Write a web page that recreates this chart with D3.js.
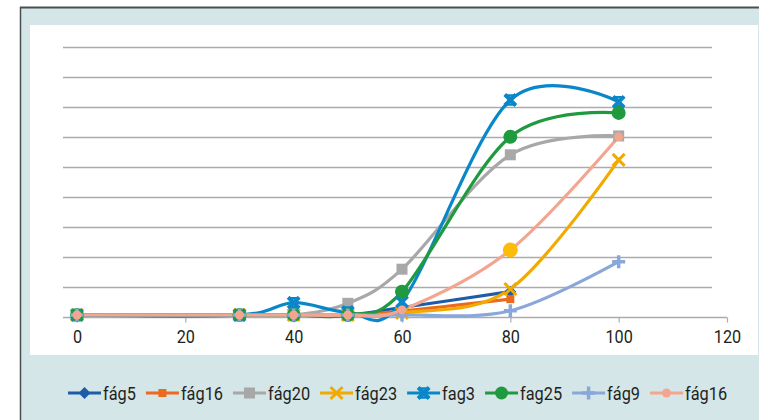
<!DOCTYPE html>
<html>
<head>
<meta charset="utf-8">
<script src="https://cdn.jsdelivr.net/npm/d3@7/dist/d3.min.js"></script>
<style>
  html, body { margin: 0; padding: 0; background: #ffffff; }
  svg { display: block; }
  text { font-family: Roboto, "Liberation Sans", sans-serif; fill: #231f20; }
</style>
</head>
<body>
<svg id="chart" width="759" height="420"></svg>
<script>
// Sampling points (x) and the measured responses of each phage
const xValues = [0, 30, 40, 50, 60, 80, 100];
const xTicks = [0, 20, 40, 60, 80, 100, 120];
const gridValues = [10, 20, 30, 40, 50, 60, 70, 80, 90];

const fag5   = [0.5, 0.5, 0.5, 0.5, 3.0, 8.3];
const fag16  = [0.5, 0.5, 0.5, 0.5, 1.8, 5.8];
const fag20  = [0.5, 0.5, 0.5, 4.4, 15.8, 54, 60.3];
const fag23  = [0.5, 0.5, 0.5, 0.5, 1.2, 9.2, 52.3];
const fag3   = [0.5, 0.5, 4.6, 1.5, 4.9, 72.3, 71.7];
const fag25  = [0.5, 0.5, 0.5, 0.5, 8.3, 60, 68];
const fag9   = [0.5, 0.5, 0.5, 0.5, 0.5, 1.9, 18.3];
const fag16b = [0.5, 0.5, 0.5, 0.5, 2.2, 22.2, 60];

const seriesNames = ["fág5", "fág16", "fág20", "fág23", "fag3", "fag25", "fág9", "fág16"];
const seriesValues = [fag5, fag16, fag20, fag23, fag3, fag25, fag9, fag16b];

// Styling per series
const styles = [
  { color: "#1c5ca8", marker: "diamond", size: 12 },
  { color: "#ec6a1c", marker: "square",  size: 8 },
  { color: "#a8a8a8", marker: "square",  size: 11 },
  { color: "#f2a900", marker: "x",       size: 12 },
  { color: "#0a87c9", marker: "xbold",   size: 11 },
  { color: "#1f9a3e", marker: "circle",  size: 14 },
  { color: "#8aa7da", marker: "plus",    size: 13 },
  { color: "#f4a58f", marker: "circle",  size: 9 }
];
// one point of the last series carries its own marker fill
const accentPoint = { series: 7, index: 5, color: "#fbbc0a", size: 15 };

const svg = d3.select("#chart");

// frame
svg.append("rect").attr("x", 20).attr("y", 7).attr("width", 739).attr("height", 413).attr("fill", "#d4e6e8");
svg.append("line").attr("x1", 20).attr("x2", 759).attr("y1", 7.5).attr("y2", 7.5).attr("stroke", "#4a4f50").attr("stroke-width", 2);
svg.append("line").attr("x1", 20.5).attr("x2", 20.5).attr("y1", 7).attr("y2", 420).attr("stroke", "#4a4f50").attr("stroke-width", 1.5);
svg.append("rect").attr("x", 30).attr("y", 25).attr("width", 728).attr("height", 330).attr("fill", "#ffffff");

const x = d3.scaleLinear().domain([0, 120]).range([77, 727]);
const y = d3.scaleLinear().domain([0, 90]).range([316.5, 47]);
const gridLeft = 63, gridRight = 712;

// horizontal gridlines
svg.append("g").selectAll("line").data(gridValues).join("line")
  .attr("x1", gridLeft).attr("x2", gridRight)
  .attr("y1", d => Math.round(y(d)) + 0.5).attr("y2", d => Math.round(y(d)) + 0.5)
  .attr("stroke", "#ababab").attr("stroke-width", 1.4);

// x axis
const axis = svg.append("g").attr("transform", `translate(0,${Math.round(y(0)) + 0.5})`)
  .call(d3.axisBottom(x).tickValues(xTicks).tickSizeInner(5).tickSizeOuter(0).tickPadding(8));
axis.select(".domain").remove();
axis.insert("line", ":first-child").attr("x1", gridLeft).attr("x2", x.range()[1])
  .attr("stroke", "#ababab").attr("stroke-width", 1.4);
axis.selectAll(".tick line").attr("stroke", "#ababab").attr("stroke-width", 1.2);
axis.selectAll(".tick text")
  .attr("font-size", 18).attr("font-family", "Roboto, sans-serif").attr("fill", "#231f20")
  .attr("transform", "scale(0.9,1)");

// lines
const line = d3.line()
  .x((d, i) => x(xValues[i]))
  .y(d => y(d))
  .curve(d3.curveCardinal.tension(0));

const linesG = svg.append("g");
const markersG = svg.append("g");

function drawMarker(g, type, cx, cy, size, color) {
  const h = size / 2;
  if (type === "diamond") {
    g.append("path").attr("d", `M${cx},${cy - h}L${cx + h},${cy}L${cx},${cy + h}L${cx - h},${cy}Z`).attr("fill", color);
  } else if (type === "square") {
    g.append("rect").attr("x", cx - h).attr("y", cy - h).attr("width", size).attr("height", size).attr("fill", color);
  } else if (type === "circle") {
    g.append("circle").attr("cx", cx).attr("cy", cy).attr("r", h).attr("fill", color);
  } else if (type === "x") {
    g.append("path").attr("d", `M${cx - h},${cy - h}L${cx + h},${cy + h}M${cx - h},${cy + h}L${cx + h},${cy - h}`)
      .attr("stroke", color).attr("stroke-width", 3).attr("fill", "none");
  } else if (type === "xbold") {
    g.append("path").attr("d", `M${cx - h},${cy - h}L${cx + h},${cy + h}M${cx - h},${cy + h}L${cx + h},${cy - h}`)
      .attr("stroke", color).attr("stroke-width", 4).attr("fill", "none");
    g.append("path").attr("d", `M${cx - h},${cy - h + 1}L${cx + h},${cy - h + 1}M${cx - h},${cy + h - 1}L${cx + h},${cy + h - 1}`)
      .attr("stroke", color).attr("stroke-width", 2.5).attr("fill", "none");
  } else if (type === "plus") {
    g.append("path").attr("d", `M${cx - h},${cy}L${cx + h},${cy}M${cx},${cy - h}L${cx},${cy + h}`)
      .attr("stroke", color).attr("stroke-width", 3.5).attr("fill", "none");
  }
}

seriesValues.forEach((vals, s) => {
  const st = styles[s];
  linesG.append("path").datum(vals)
    .attr("d", line).attr("fill", "none")
    .attr("stroke", st.color).attr("stroke-width", 3.2).attr("stroke-linejoin", "round");
});
seriesValues.forEach((vals, s) => {
  const st = styles[s];
  const g = markersG.append("g");
  vals.forEach((v, i) => {
    if (s === accentPoint.series && i === accentPoint.index) {
      drawMarker(g, st.marker, x(xValues[i]), y(v), accentPoint.size, accentPoint.color);
    } else {
      drawMarker(g, st.marker, x(xValues[i]), y(v), st.size, st.color);
    }
  });
});

// legend: condensed labels laid out left to right
const legend = svg.append("g");
const squeeze = 0.86;
let lx = 68;
const ly = 393;
seriesNames.forEach((name, s) => {
  const st = styles[s];
  const g = legend.append("g");
  g.append("line").attr("x1", lx).attr("x2", lx + 33).attr("y1", ly).attr("y2", ly)
    .attr("stroke", st.color).attr("stroke-width", 3);
  drawMarker(g, st.marker, lx + 16.5, ly, Math.min(st.size, 13), st.color);
  const t = g.append("text")
    .attr("transform", `translate(${lx + 35},${ly + 6.5}) scale(${squeeze},1)`)
    .attr("font-size", 19).text(name);
  lx += 35 + t.node().getComputedTextLength() * squeeze + 10;
});
</script>
</body>
</html>
